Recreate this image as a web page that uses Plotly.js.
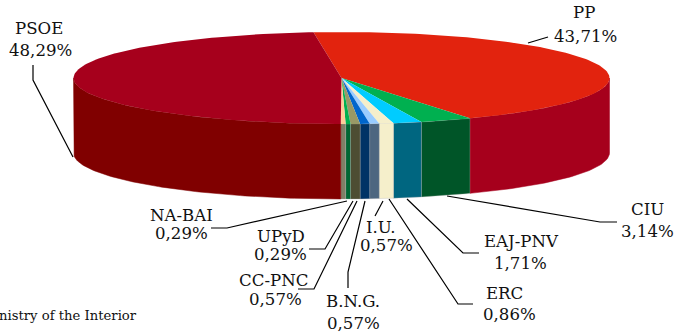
<!DOCTYPE html>
<html>
<head>
<meta charset="utf-8">
<script src="https://cdn.plot.ly/plotly-3.0.1.min.js"></script>
<style>html,body{margin:0;padding:0;background:#fff;overflow:hidden}</style>
</head>
<body>
<div id="chart" style="width:675px;height:333px"></div>
<script>
// Data, clockwise starting at the PP slice
const parties = ['PP','CIU','EAJ-PNV','ERC','I.U.','B.N.G.','CC-PNC','UPyD','NA-BAI','PSOE'];
const shares  = [43.71,3.14,1.71,0.86,0.57,0.57,0.57,0.29,0.29,48.29];
const topColors  = ['#E2230E','#00B050','#00CCFF','#F5EFCB','#99CCFF','#0066CC','#999966','#00B050','#FFCC99','#A6001C'];
const sideColors = ['#A6001C','#005528','#006680','#F5EFCB','#4D6680','#003366','#4D4D33','#006633','#807F66','#800000'];

// Pie projection
const CX = 341.5, CY = 78, RX = 268, RY = 46, DEPTH = 75, START = -6;
const px = d => CX + RX * Math.sin(d * Math.PI / 180);
const py = d => CY - RY * Math.cos(d * Math.PI / 180);

const traces = [];
function poly(xs, ys, color, lineColor, lineWidth) {
  traces.push({type:'scatter', mode:'lines', x:xs, y:ys, fill:'toself', fillcolor:color,
    line:{width:lineWidth || 0, color:lineColor || color}, hoverinfo:'skip', showlegend:false});
}
function arc(a, b) {
  const n = Math.max(2, Math.ceil(Math.abs(b - a))), out = [];
  for (let i = 0; i <= n; i++) out.push(a + (b - a) * i / n);
  return out;
}
let cum = START;
shares.forEach((v, i) => {
  const a = cum, b = cum + v * 3.6; cum = b;
  // Visible outer wall: the front half only
  const s = Math.max(a, 90), e = Math.min(b, 270);
  if (e > s) {
    const t = arc(s, e);
    const back = t.slice().reverse();
    poly(t.map(px).concat(back.map(px), [px(s)]),
         t.map(py).concat(back.map(d => py(d) + DEPTH), [py(s)]),
         sideColors[i], (i === 0 || i === 9) ? sideColors[i] : 'rgba(170,170,170,0.6)', 0.5);
  }
  const t = arc(a, b);
  poly([CX].concat(t.map(px), [CX]), [CY].concat(t.map(py), [CY]), topColors[i]);
});

// Label placement and leader lines, same order as parties
const nameAt = [[584,12],[647,209],[521,241],[504,293],[381,227],[353,301],[273,280],[281,236],[181,215],[39,28]];
const pctAt  = [[585,36],[647,231],[520,263],[509,314],[386,245],[353,323],[275,299],[280,254],[181,233],[40,50]];
const leaders = [
  [[548,37],[528,43]],
  [[617,222],[600,222],[447,196]],
  [[479,253],[463,253],[407,199]],
  [[473,304],[458,304],[389,199]],
  [[375,216],[383,201]],
  [[348,288],[348,272],[365,201]],
  [[298,289],[314,289],[357,201]],
  [[309,249],[325,249],[353,201]],
  [[211,228],[227,228],[347,201]],
  [[33,65],[33,80],[73,157]]
];
leaders.forEach(l => traces.push({type:'scatter', mode:'lines', x:l.map(p=>p[0]), y:l.map(p=>p[1]),
  line:{color:'#000', width:1.2}, hoverinfo:'skip', showlegend:false}));

const FONT = {family:'"DejaVu Serif", serif', size:16.6, color:'#111'};
const note = (text, p, font) => ({text, x:p[0], y:p[1], xref:'x', yref:'y', showarrow:false,
  xanchor:'center', yanchor:'middle', font, borderpad:0});
const annotations = [];
parties.forEach((name, i) => {
  annotations.push(note(name, nameAt[i], FONT));
  annotations.push(note(shares[i].toFixed(2).replace('.', ',') + '%', pctAt[i], FONT));
});
annotations.push({text:'nistry of the Interior', x:137.5, y:315, xref:'x', yref:'y', showarrow:false,
  xanchor:'right', yanchor:'middle', borderpad:0,
  font:{family:'"DejaVu Serif", serif', size:13.2, color:'#111'}});

Plotly.newPlot('chart', traces, {
  width:675, height:333, margin:{l:0,r:0,t:0,b:0},
  paper_bgcolor:'#fff', plot_bgcolor:'#fff', showlegend:false,
  xaxis:{range:[0,675], visible:false, fixedrange:true},
  yaxis:{range:[333,0], visible:false, fixedrange:true},
  annotations
}, {displayModeBar:false, staticPlot:true});
</script>
</body>
</html>
